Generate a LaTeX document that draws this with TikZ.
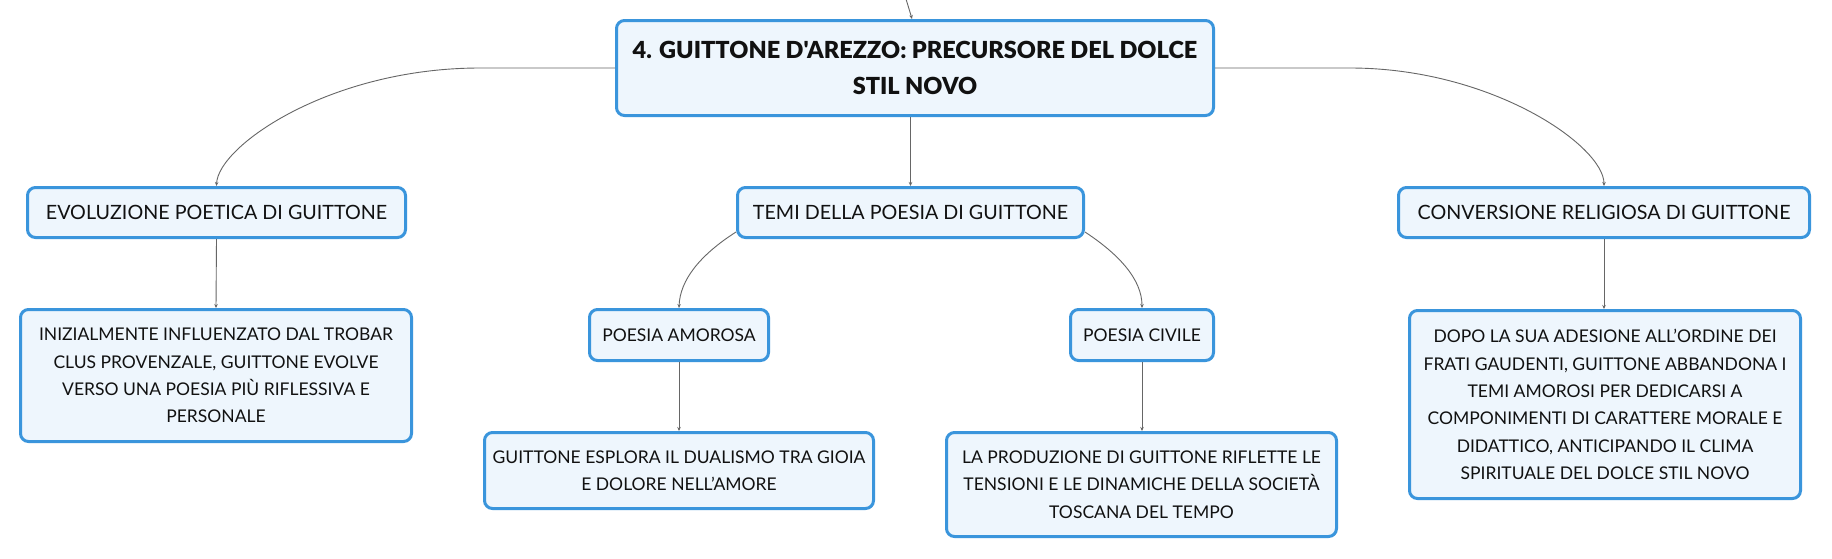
\documentclass[tikz,border=0pt]{standalone}
\usepackage{fontspec}
\setmainfont{Lato}
\newfontfamily\titlefont{Lato Black}
\usetikzlibrary{arrows.meta}
\definecolor{bordc}{HTML}{3A95DC}
\definecolor{fillc}{HTML}{EEF6FD}
\definecolor{linec}{HTML}{666666}
\definecolor{txtc}{HTML}{111111}
\tikzset{
  box/.style={draw=bordc, line width=3pt, fill=fillc, rounded corners=8pt,
    align=center, text=txtc, inner sep=0pt,
    font=\fontsize{17.5}{27.3}\selectfont},
  midbox/.style={box, font=\fontsize{19.7}{27.3}\selectfont},
  titlebox/.style={box, font=\titlefont\fontsize{23.5}{36}\selectfont},
  conn/.style={draw=linec, line width=0.9pt, -{Stealth[length=4pt,width=3.5pt]}}
}
\begin{document}
\begin{tikzpicture}[x=1pt,y=-1pt]
\fill[white] (0,0) rectangle (1832,558);
\useasboundingbox (0,0) rectangle (1832,558);

\node[titlebox, minimum width=597pt, minimum height=95pt] (main) at (915,68)
  {4. GUITTONE D'AREZZO: PRECURSORE DEL DOLCE\\STIL NOVO};

\node[midbox, minimum width=378pt, minimum height=50pt] (evo) at (216.5,212.5)
  {EVOLUZIONE POETICA DI GUITTONE};
\node[midbox, minimum width=346pt, minimum height=50pt] (temi) at (910.5,212.5)
  {TEMI DELLA POESIA DI GUITTONE};
\node[midbox, minimum width=411pt, minimum height=50pt] (conv) at (1604,212.5)
  {CONVERSIONE RELIGIOSA DI GUITTONE};

\node[box, minimum width=391pt, minimum height=132pt] (iniz) at (216,375.5)
  {INIZIALMENTE INFLUENZATO DAL TROBAR\\CLUS PROVENZALE, GUITTONE EVOLVE\\VERSO UNA POESIA PIÙ RIFLESSIVA E\\PERSONALE};
\node[box, minimum width=179pt, minimum height=51pt] (amor) at (679,335)
  {POESIA AMOROSA};
\node[box, minimum width=143pt, minimum height=51pt] (civ) at (1142,335)
  {POESIA CIVILE};
\node[box, minimum width=389pt, minimum height=76pt] (espl) at (679,470.5)
  {GUITTONE ESPLORA IL DUALISMO TRA GIOIA\\E DOLORE NELL'AMORE};
\node[box, minimum width=390pt, minimum height=104pt] (prod) at (1141.5,484.5)
  {LA PRODUZIONE DI GUITTONE RIFLETTE LE\\TENSIONI E LE DINAMICHE DELLA SOCIETÀ\\TOSCANA DEL TEMPO};
\node[box, minimum width=391pt, minimum height=188pt] (dopo) at (1605,404.5)
  {DOPO LA SUA ADESIONE ALL'ORDINE DEI\\FRATI GAUDENTI, GUITTONE ABBANDONA I\\TEMI AMOROSI PER DEDICARSI A\\COMPONIMENTI DI CARATTERE MORALE E\\DIDATTICO, ANTICIPANDO IL CLIMA\\SPIRITUALE DEL DOLCE STIL NOVO};

\coordinate (topin) at (906,-1);
\draw[conn] (topin) .. controls (909,8) .. ([xshift=-3pt]main.north);
\draw[conn] (main.west) -- (480,68) .. controls (330,68) and (218,146) .. (evo.north);
\draw[conn] (main.east) -- (1350,68) .. controls (1492,68) and (1604,146) .. (conv.north);
\draw[conn] (temi.north |- main.south) -- (temi.north);
\draw[conn] (evo.south) -- (iniz.north);
\draw[conn] (conv.south) -- (conv.south |- dopo.north);
\draw[conn] ([yshift=7pt]temi.south west) .. controls (700,255) and (680,280) .. (amor.north);
\draw[conn] ([yshift=7pt]temi.south east) .. controls (1120,255) and (1142,280) .. (civ.north);
\draw[conn] (amor.south) -- (espl.north);
\draw[conn] (civ.south) -- (civ.south |- prod.north);
\end{tikzpicture}
\end{document}
